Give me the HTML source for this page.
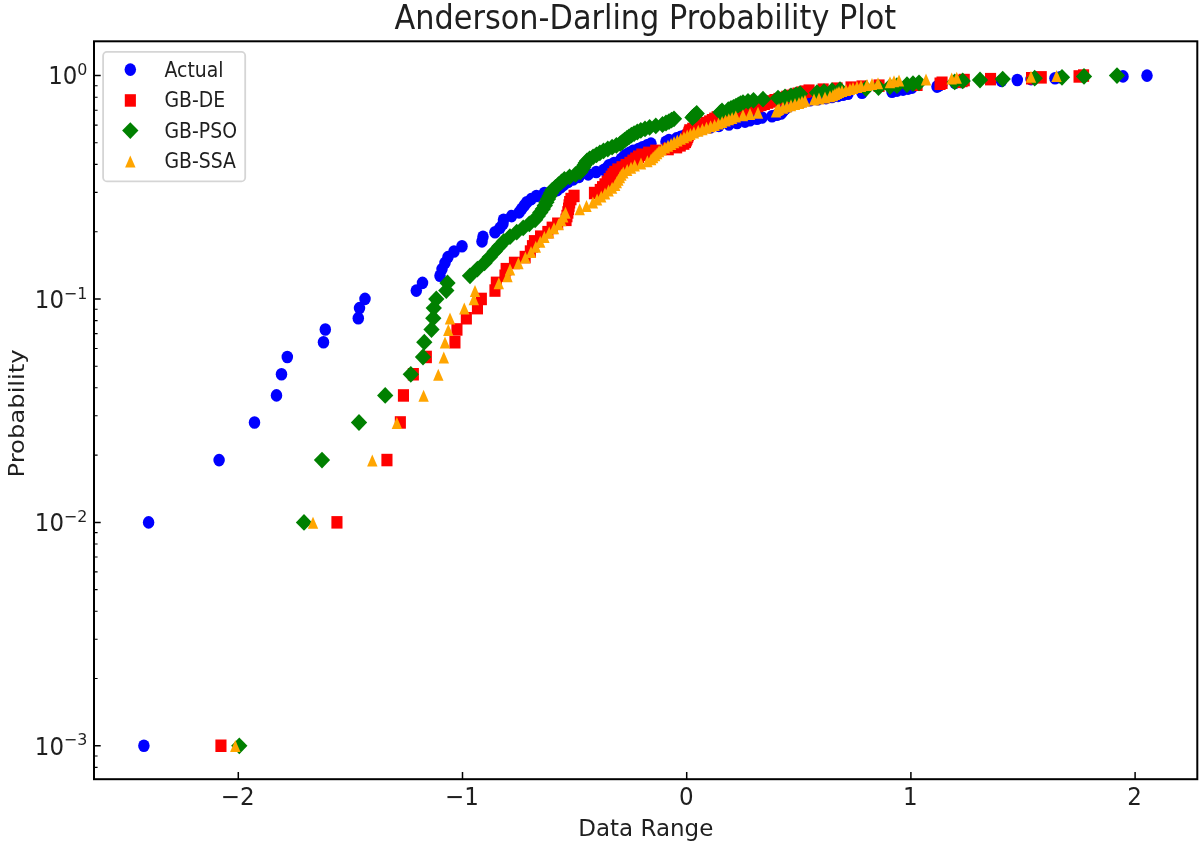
<!DOCTYPE html>
<html lang="en"><head><meta charset="utf-8"><title>Anderson-Darling Probability Plot</title>
<style>html,body{margin:0;padding:0;background:#fff}body{width:1200px;height:843px;overflow:hidden}svg{display:block}text{font-family:"DejaVu Sans","Liberation Sans",sans-serif;fill:#1f1f1f}</style></head><body>
<svg width="1200" height="843" viewBox="0 0 1200 843">
<rect width="1200" height="843" fill="#fff"/>
<g fill="#0000ff">
<ellipse cx="143.9" cy="745.8" rx="5.75" ry="6.3"/><ellipse cx="148.6" cy="522.4" rx="5.75" ry="6.3"/><ellipse cx="219.1" cy="460.1" rx="5.75" ry="6.3"/><ellipse cx="254.5" cy="422.5" rx="5.75" ry="6.3"/><ellipse cx="276.5" cy="395.4" rx="5.75" ry="6.3"/><ellipse cx="281.5" cy="374.3" rx="5.75" ry="6.3"/><ellipse cx="287.3" cy="357.0" rx="5.75" ry="6.3"/><ellipse cx="323.5" cy="342.2" rx="5.75" ry="6.3"/><ellipse cx="325.3" cy="329.5" rx="5.75" ry="6.3"/><ellipse cx="358.3" cy="318.2" rx="5.75" ry="6.3"/><ellipse cx="359.5" cy="308.1" rx="5.75" ry="6.3"/><ellipse cx="365.0" cy="298.9" rx="5.75" ry="6.3"/><ellipse cx="416.3" cy="290.6" rx="5.75" ry="6.3"/><ellipse cx="422.5" cy="282.9" rx="5.75" ry="6.3"/><ellipse cx="440.0" cy="275.8" rx="5.75" ry="6.3"/><ellipse cx="442.0" cy="269.1" rx="5.75" ry="6.3"/><ellipse cx="445.0" cy="262.9" rx="5.75" ry="6.3"/><ellipse cx="448.0" cy="257.1" rx="5.75" ry="6.3"/><ellipse cx="454.0" cy="251.5" rx="5.75" ry="6.3"/><ellipse cx="462.0" cy="246.3" rx="5.75" ry="6.3"/><ellipse cx="482.0" cy="241.4" rx="5.75" ry="6.3"/><ellipse cx="483.0" cy="236.7" rx="5.75" ry="6.3"/><ellipse cx="495.0" cy="232.2" rx="5.75" ry="6.3"/><ellipse cx="500.0" cy="227.9" rx="5.75" ry="6.3"/><ellipse cx="503.0" cy="223.8" rx="5.75" ry="6.3"/><ellipse cx="503.5" cy="219.8" rx="5.75" ry="6.3"/><ellipse cx="511.6" cy="216.1" rx="5.75" ry="6.3"/><ellipse cx="519.1" cy="212.4" rx="5.75" ry="6.3"/><ellipse cx="521.7" cy="208.9" rx="5.75" ry="6.3"/><ellipse cx="524.3" cy="205.5" rx="5.75" ry="6.3"/><ellipse cx="526.8" cy="202.2" rx="5.75" ry="6.3"/><ellipse cx="531.2" cy="199.1" rx="5.75" ry="6.3"/><ellipse cx="536.4" cy="196.0" rx="5.75" ry="6.3"/><ellipse cx="544.4" cy="193.0" rx="5.75" ry="6.3"/><ellipse cx="557.2" cy="190.1" rx="5.75" ry="6.3"/><ellipse cx="560.7" cy="187.3" rx="5.75" ry="6.3"/><ellipse cx="564.0" cy="184.6" rx="5.75" ry="6.3"/><ellipse cx="568.1" cy="181.9" rx="5.75" ry="6.3"/><ellipse cx="573.3" cy="179.4" rx="5.75" ry="6.3"/><ellipse cx="579.0" cy="176.9" rx="5.75" ry="6.3"/><ellipse cx="588.2" cy="174.4" rx="5.75" ry="6.3"/><ellipse cx="596.2" cy="172.0" rx="5.75" ry="6.3"/><ellipse cx="604.0" cy="169.7" rx="5.75" ry="6.3"/><ellipse cx="607.5" cy="167.4" rx="5.75" ry="6.3"/><ellipse cx="609.0" cy="165.2" rx="5.75" ry="6.3"/><ellipse cx="614.0" cy="163.0" rx="5.75" ry="6.3"/><ellipse cx="620.0" cy="160.9" rx="5.75" ry="6.3"/><ellipse cx="621.5" cy="158.8" rx="5.75" ry="6.3"/><ellipse cx="624.0" cy="156.8" rx="5.75" ry="6.3"/><ellipse cx="626.0" cy="154.8" rx="5.75" ry="6.3"/><ellipse cx="629.5" cy="152.8" rx="5.75" ry="6.3"/><ellipse cx="633.0" cy="150.9" rx="5.75" ry="6.3"/><ellipse cx="638.5" cy="149.0" rx="5.75" ry="6.3"/><ellipse cx="642.5" cy="147.2" rx="5.75" ry="6.3"/><ellipse cx="647.0" cy="145.4" rx="5.75" ry="6.3"/><ellipse cx="651.0" cy="143.6" rx="5.75" ry="6.3"/><ellipse cx="666.0" cy="141.8" rx="5.75" ry="6.3"/><ellipse cx="669.0" cy="140.1" rx="5.75" ry="6.3"/><ellipse cx="676.5" cy="138.4" rx="5.75" ry="6.3"/><ellipse cx="680.8" cy="136.8" rx="5.75" ry="6.3"/><ellipse cx="685.1" cy="135.2" rx="5.75" ry="6.3"/><ellipse cx="689.3" cy="133.6" rx="5.75" ry="6.3"/><ellipse cx="693.5" cy="132.0" rx="5.75" ry="6.3"/><ellipse cx="697.6" cy="130.4" rx="5.75" ry="6.3"/><ellipse cx="703.0" cy="128.9" rx="5.75" ry="6.3"/><ellipse cx="710.5" cy="127.4" rx="5.75" ry="6.3"/><ellipse cx="718.9" cy="125.9" rx="5.75" ry="6.3"/><ellipse cx="728.9" cy="124.5" rx="5.75" ry="6.3"/><ellipse cx="737.1" cy="123.0" rx="5.75" ry="6.3"/><ellipse cx="745.0" cy="121.6" rx="5.75" ry="6.3"/><ellipse cx="750.0" cy="120.2" rx="5.75" ry="6.3"/><ellipse cx="757.0" cy="118.8" rx="5.75" ry="6.3"/><ellipse cx="762.0" cy="117.5" rx="5.75" ry="6.3"/><ellipse cx="772.0" cy="116.2" rx="5.75" ry="6.3"/><ellipse cx="777.0" cy="114.8" rx="5.75" ry="6.3"/><ellipse cx="781.0" cy="113.5" rx="5.75" ry="6.3"/><ellipse cx="782.0" cy="112.3" rx="5.75" ry="6.3"/><ellipse cx="783.0" cy="111.0" rx="5.75" ry="6.3"/><ellipse cx="784.0" cy="109.7" rx="5.75" ry="6.3"/><ellipse cx="785.5" cy="108.5" rx="5.75" ry="6.3"/><ellipse cx="787.0" cy="107.3" rx="5.75" ry="6.3"/><ellipse cx="789.0" cy="106.1" rx="5.75" ry="6.3"/><ellipse cx="792.0" cy="104.9" rx="5.75" ry="6.3"/><ellipse cx="796.0" cy="103.7" rx="5.75" ry="6.3"/><ellipse cx="800.0" cy="102.6" rx="5.75" ry="6.3"/><ellipse cx="803.0" cy="101.4" rx="5.75" ry="6.3"/><ellipse cx="810.0" cy="100.3" rx="5.75" ry="6.3"/><ellipse cx="818.0" cy="99.2" rx="5.75" ry="6.3"/><ellipse cx="826.0" cy="98.1" rx="5.75" ry="6.3"/><ellipse cx="832.0" cy="97.0" rx="5.75" ry="6.3"/><ellipse cx="838.0" cy="95.9" rx="5.75" ry="6.3"/><ellipse cx="843.0" cy="94.8" rx="5.75" ry="6.3"/><ellipse cx="848.0" cy="93.7" rx="5.75" ry="6.3"/><ellipse cx="862.0" cy="92.7" rx="5.75" ry="6.3"/><ellipse cx="892.0" cy="91.7" rx="5.75" ry="6.3"/><ellipse cx="897.0" cy="90.6" rx="5.75" ry="6.3"/><ellipse cx="903.0" cy="89.6" rx="5.75" ry="6.3"/><ellipse cx="908.0" cy="88.6" rx="5.75" ry="6.3"/><ellipse cx="912.0" cy="87.6" rx="5.75" ry="6.3"/><ellipse cx="937.0" cy="86.6" rx="5.75" ry="6.3"/><ellipse cx="938.5" cy="85.7" rx="5.75" ry="6.3"/><ellipse cx="940.0" cy="84.7" rx="5.75" ry="6.3"/><ellipse cx="942.0" cy="83.7" rx="5.75" ry="6.3"/><ellipse cx="955.0" cy="82.8" rx="5.75" ry="6.3"/><ellipse cx="961.0" cy="81.9" rx="5.75" ry="6.3"/><ellipse cx="1001.5" cy="80.9" rx="5.75" ry="6.3"/><ellipse cx="1017.3" cy="80.0" rx="5.75" ry="6.3"/><ellipse cx="1031.0" cy="79.1" rx="5.75" ry="6.3"/><ellipse cx="1055.0" cy="78.2" rx="5.75" ry="6.3"/><ellipse cx="1060.0" cy="77.3" rx="5.75" ry="6.3"/><ellipse cx="1123.0" cy="76.4" rx="5.75" ry="6.3"/><ellipse cx="1147.0" cy="75.6" rx="5.75" ry="6.3"/>
</g>
<g fill="#ff0000">
<rect x="215.4" y="739.5" width="11.1" height="12.5"/><rect x="331.4" y="516.1" width="11.1" height="12.5"/><rect x="381.4" y="453.8" width="11.1" height="12.5"/><rect x="394.8" y="416.2" width="11.1" height="12.5"/><rect x="397.9" y="389.2" width="11.1" height="12.5"/><rect x="407.8" y="368.0" width="11.1" height="12.5"/><rect x="420.8" y="350.7" width="11.1" height="12.5"/><rect x="449.4" y="336.0" width="11.1" height="12.5"/><rect x="451.4" y="323.2" width="11.1" height="12.5"/><rect x="460.8" y="312.0" width="11.1" height="12.5"/><rect x="471.9" y="301.9" width="11.1" height="12.5"/><rect x="475.8" y="292.7" width="11.1" height="12.5"/><rect x="489.4" y="284.3" width="11.1" height="12.5"/><rect x="490.8" y="276.6" width="11.1" height="12.5"/><rect x="499.4" y="269.5" width="11.1" height="12.5"/><rect x="500.6" y="262.9" width="11.1" height="12.5"/><rect x="508.9" y="256.7" width="11.1" height="12.5"/><rect x="519.6" y="250.8" width="11.1" height="12.5"/><rect x="524.8" y="245.3" width="11.1" height="12.5"/><rect x="526.9" y="240.1" width="11.1" height="12.5"/><rect x="528.9" y="235.1" width="11.1" height="12.5"/><rect x="535.0" y="230.4" width="11.1" height="12.5"/><rect x="542.3" y="225.9" width="11.1" height="12.5"/><rect x="546.6" y="221.6" width="11.1" height="12.5"/><rect x="552.1" y="217.5" width="11.1" height="12.5"/><rect x="560.5" y="213.6" width="11.1" height="12.5"/><rect x="561.4" y="209.8" width="11.1" height="12.5"/><rect x="562.3" y="206.2" width="11.1" height="12.5"/><rect x="563.0" y="202.6" width="11.1" height="12.5"/><rect x="563.5" y="199.3" width="11.1" height="12.5"/><rect x="564.1" y="196.0" width="11.1" height="12.5"/><rect x="565.4" y="192.8" width="11.1" height="12.5"/><rect x="568.5" y="189.7" width="11.1" height="12.5"/><rect x="588.9" y="186.8" width="11.1" height="12.5"/><rect x="594.7" y="183.9" width="11.1" height="12.5"/><rect x="597.0" y="181.1" width="11.1" height="12.5"/><rect x="599.4" y="178.3" width="11.1" height="12.5"/><rect x="601.6" y="175.7" width="11.1" height="12.5"/><rect x="603.7" y="173.1" width="11.1" height="12.5"/><rect x="605.6" y="170.6" width="11.1" height="12.5"/><rect x="607.4" y="168.2" width="11.1" height="12.5"/><rect x="609.2" y="165.8" width="11.1" height="12.5"/><rect x="612.3" y="163.4" width="11.1" height="12.5"/><rect x="616.5" y="161.2" width="11.1" height="12.5"/><rect x="620.5" y="158.9" width="11.1" height="12.5"/><rect x="624.4" y="156.8" width="11.1" height="12.5"/><rect x="627.4" y="154.6" width="11.1" height="12.5"/><rect x="630.2" y="152.5" width="11.1" height="12.5"/><rect x="633.0" y="150.5" width="11.1" height="12.5"/><rect x="636.3" y="148.5" width="11.1" height="12.5"/><rect x="643.1" y="146.6" width="11.1" height="12.5"/><rect x="650.2" y="144.6" width="11.1" height="12.5"/><rect x="662.7" y="142.8" width="11.1" height="12.5"/><rect x="671.1" y="140.9" width="11.1" height="12.5"/><rect x="674.7" y="139.1" width="11.1" height="12.5"/><rect x="678.3" y="137.3" width="11.1" height="12.5"/><rect x="679.9" y="135.6" width="11.1" height="12.5"/><rect x="680.7" y="133.9" width="11.1" height="12.5"/><rect x="681.4" y="132.2" width="11.1" height="12.5"/><rect x="682.1" y="130.5" width="11.1" height="12.5"/><rect x="682.7" y="128.9" width="11.1" height="12.5"/><rect x="683.3" y="127.3" width="11.1" height="12.5"/><rect x="683.8" y="125.7" width="11.1" height="12.5"/><rect x="684.3" y="124.2" width="11.1" height="12.5"/><rect x="687.2" y="122.7" width="11.1" height="12.5"/><rect x="690.9" y="121.2" width="11.1" height="12.5"/><rect x="694.6" y="119.7" width="11.1" height="12.5"/><rect x="697.8" y="118.2" width="11.1" height="12.5"/><rect x="701.0" y="116.8" width="11.1" height="12.5"/><rect x="704.1" y="115.4" width="11.1" height="12.5"/><rect x="706.8" y="114.0" width="11.1" height="12.5"/><rect x="709.2" y="112.6" width="11.1" height="12.5"/><rect x="711.6" y="111.2" width="11.1" height="12.5"/><rect x="715.8" y="109.9" width="11.1" height="12.5"/><rect x="721.1" y="108.6" width="11.1" height="12.5"/><rect x="727.2" y="107.3" width="11.1" height="12.5"/><rect x="734.9" y="106.0" width="11.1" height="12.5"/><rect x="739.1" y="104.7" width="11.1" height="12.5"/><rect x="742.3" y="103.5" width="11.1" height="12.5"/><rect x="745.5" y="102.3" width="11.1" height="12.5"/><rect x="748.7" y="101.0" width="11.1" height="12.5"/><rect x="752.1" y="99.8" width="11.1" height="12.5"/><rect x="755.5" y="98.6" width="11.1" height="12.5"/><rect x="758.8" y="97.5" width="11.1" height="12.5"/><rect x="762.2" y="96.3" width="11.1" height="12.5"/><rect x="765.5" y="95.2" width="11.1" height="12.5"/><rect x="769.4" y="94.0" width="11.1" height="12.5"/><rect x="773.4" y="92.9" width="11.1" height="12.5"/><rect x="777.3" y="91.8" width="11.1" height="12.5"/><rect x="781.2" y="90.7" width="11.1" height="12.5"/><rect x="785.0" y="89.6" width="11.1" height="12.5"/><rect x="788.8" y="88.6" width="11.1" height="12.5"/><rect x="792.5" y="87.5" width="11.1" height="12.5"/><rect x="796.2" y="86.4" width="11.1" height="12.5"/><rect x="799.8" y="85.4" width="11.1" height="12.5"/><rect x="803.5" y="84.4" width="11.1" height="12.5"/><rect x="817.6" y="83.4" width="11.1" height="12.5"/><rect x="831.6" y="82.4" width="11.1" height="12.5"/><rect x="845.5" y="81.4" width="11.1" height="12.5"/><rect x="856.5" y="80.4" width="11.1" height="12.5"/><rect x="873.5" y="79.4" width="11.1" height="12.5"/><rect x="911.5" y="78.5" width="11.1" height="12.5"/><rect x="934.5" y="77.5" width="11.1" height="12.5"/><rect x="936.5" y="76.5" width="11.1" height="12.5"/><rect x="953.5" y="75.6" width="11.1" height="12.5"/><rect x="956.5" y="74.7" width="11.1" height="12.5"/><rect x="958.7" y="73.8" width="11.1" height="12.5"/><rect x="985.0" y="72.9" width="11.1" height="12.5"/><rect x="1026.0" y="72.0" width="11.1" height="12.5"/><rect x="1035.7" y="71.1" width="11.1" height="12.5"/><rect x="1073.5" y="70.2" width="11.1" height="12.5"/><rect x="1078.0" y="69.3" width="11.1" height="12.5"/>
</g>
<g fill="#008000">
<path d="M239.3 737.4l8.15 8.4l-8.15 8.4l-8.15 -8.4z"/><path d="M304.0 514.0l8.15 8.4l-8.15 8.4l-8.15 -8.4z"/><path d="M322.0 451.7l8.15 8.4l-8.15 8.4l-8.15 -8.4z"/><path d="M359.0 414.1l8.15 8.4l-8.15 8.4l-8.15 -8.4z"/><path d="M385.2 387.0l8.15 8.4l-8.15 8.4l-8.15 -8.4z"/><path d="M410.8 365.9l8.15 8.4l-8.15 8.4l-8.15 -8.4z"/><path d="M423.0 348.6l8.15 8.4l-8.15 8.4l-8.15 -8.4z"/><path d="M424.3 333.8l8.15 8.4l-8.15 8.4l-8.15 -8.4z"/><path d="M431.5 321.1l8.15 8.4l-8.15 8.4l-8.15 -8.4z"/><path d="M433.3 309.8l8.15 8.4l-8.15 8.4l-8.15 -8.4z"/><path d="M433.8 299.7l8.15 8.4l-8.15 8.4l-8.15 -8.4z"/><path d="M436.3 290.6l8.15 8.4l-8.15 8.4l-8.15 -8.4z"/><path d="M446.3 282.2l8.15 8.4l-8.15 8.4l-8.15 -8.4z"/><path d="M447.5 274.5l8.15 8.4l-8.15 8.4l-8.15 -8.4z"/><path d="M470.0 267.4l8.15 8.4l-8.15 8.4l-8.15 -8.4z"/><path d="M477.4 260.7l8.15 8.4l-8.15 8.4l-8.15 -8.4z"/><path d="M484.5 254.5l8.15 8.4l-8.15 8.4l-8.15 -8.4z"/><path d="M489.8 248.7l8.15 8.4l-8.15 8.4l-8.15 -8.4z"/><path d="M494.7 243.1l8.15 8.4l-8.15 8.4l-8.15 -8.4z"/><path d="M499.4 237.9l8.15 8.4l-8.15 8.4l-8.15 -8.4z"/><path d="M503.8 233.0l8.15 8.4l-8.15 8.4l-8.15 -8.4z"/><path d="M510.0 228.3l8.15 8.4l-8.15 8.4l-8.15 -8.4z"/><path d="M516.7 223.8l8.15 8.4l-8.15 8.4l-8.15 -8.4z"/><path d="M523.2 219.5l8.15 8.4l-8.15 8.4l-8.15 -8.4z"/><path d="M529.3 215.4l8.15 8.4l-8.15 8.4l-8.15 -8.4z"/><path d="M535.1 211.4l8.15 8.4l-8.15 8.4l-8.15 -8.4z"/><path d="M537.8 207.7l8.15 8.4l-8.15 8.4l-8.15 -8.4z"/><path d="M540.3 204.0l8.15 8.4l-8.15 8.4l-8.15 -8.4z"/><path d="M542.8 200.5l8.15 8.4l-8.15 8.4l-8.15 -8.4z"/><path d="M544.8 197.1l8.15 8.4l-8.15 8.4l-8.15 -8.4z"/><path d="M546.4 193.8l8.15 8.4l-8.15 8.4l-8.15 -8.4z"/><path d="M548.0 190.7l8.15 8.4l-8.15 8.4l-8.15 -8.4z"/><path d="M549.5 187.6l8.15 8.4l-8.15 8.4l-8.15 -8.4z"/><path d="M551.0 184.6l8.15 8.4l-8.15 8.4l-8.15 -8.4z"/><path d="M552.4 181.7l8.15 8.4l-8.15 8.4l-8.15 -8.4z"/><path d="M555.5 178.9l8.15 8.4l-8.15 8.4l-8.15 -8.4z"/><path d="M558.5 176.2l8.15 8.4l-8.15 8.4l-8.15 -8.4z"/><path d="M561.5 173.5l8.15 8.4l-8.15 8.4l-8.15 -8.4z"/><path d="M564.4 171.0l8.15 8.4l-8.15 8.4l-8.15 -8.4z"/><path d="M569.6 168.5l8.15 8.4l-8.15 8.4l-8.15 -8.4z"/><path d="M575.5 166.0l8.15 8.4l-8.15 8.4l-8.15 -8.4z"/><path d="M580.3 163.6l8.15 8.4l-8.15 8.4l-8.15 -8.4z"/><path d="M581.7 161.3l8.15 8.4l-8.15 8.4l-8.15 -8.4z"/><path d="M583.1 159.0l8.15 8.4l-8.15 8.4l-8.15 -8.4z"/><path d="M584.4 156.8l8.15 8.4l-8.15 8.4l-8.15 -8.4z"/><path d="M585.7 154.6l8.15 8.4l-8.15 8.4l-8.15 -8.4z"/><path d="M587.0 152.5l8.15 8.4l-8.15 8.4l-8.15 -8.4z"/><path d="M589.6 150.4l8.15 8.4l-8.15 8.4l-8.15 -8.4z"/><path d="M593.1 148.4l8.15 8.4l-8.15 8.4l-8.15 -8.4z"/><path d="M596.5 146.4l8.15 8.4l-8.15 8.4l-8.15 -8.4z"/><path d="M599.9 144.4l8.15 8.4l-8.15 8.4l-8.15 -8.4z"/><path d="M603.5 142.5l8.15 8.4l-8.15 8.4l-8.15 -8.4z"/><path d="M607.8 140.6l8.15 8.4l-8.15 8.4l-8.15 -8.4z"/><path d="M612.1 138.8l8.15 8.4l-8.15 8.4l-8.15 -8.4z"/><path d="M616.4 137.0l8.15 8.4l-8.15 8.4l-8.15 -8.4z"/><path d="M620.3 135.2l8.15 8.4l-8.15 8.4l-8.15 -8.4z"/><path d="M622.5 133.4l8.15 8.4l-8.15 8.4l-8.15 -8.4z"/><path d="M624.7 131.7l8.15 8.4l-8.15 8.4l-8.15 -8.4z"/><path d="M626.9 130.0l8.15 8.4l-8.15 8.4l-8.15 -8.4z"/><path d="M629.0 128.4l8.15 8.4l-8.15 8.4l-8.15 -8.4z"/><path d="M631.4 126.8l8.15 8.4l-8.15 8.4l-8.15 -8.4z"/><path d="M634.1 125.2l8.15 8.4l-8.15 8.4l-8.15 -8.4z"/><path d="M637.3 123.6l8.15 8.4l-8.15 8.4l-8.15 -8.4z"/><path d="M640.8 122.0l8.15 8.4l-8.15 8.4l-8.15 -8.4z"/><path d="M645.0 120.5l8.15 8.4l-8.15 8.4l-8.15 -8.4z"/><path d="M649.6 119.0l8.15 8.4l-8.15 8.4l-8.15 -8.4z"/><path d="M655.8 117.5l8.15 8.4l-8.15 8.4l-8.15 -8.4z"/><path d="M662.5 116.1l8.15 8.4l-8.15 8.4l-8.15 -8.4z"/><path d="M666.0 114.6l8.15 8.4l-8.15 8.4l-8.15 -8.4z"/><path d="M669.0 113.2l8.15 8.4l-8.15 8.4l-8.15 -8.4z"/><path d="M671.5 111.8l8.15 8.4l-8.15 8.4l-8.15 -8.4z"/><path d="M674.0 110.4l8.15 8.4l-8.15 8.4l-8.15 -8.4z"/><path d="M692.5 109.1l8.15 8.4l-8.15 8.4l-8.15 -8.4z"/><path d="M693.8 107.8l8.15 8.4l-8.15 8.4l-8.15 -8.4z"/><path d="M695.5 106.4l8.15 8.4l-8.15 8.4l-8.15 -8.4z"/><path d="M696.7 105.1l8.15 8.4l-8.15 8.4l-8.15 -8.4z"/><path d="M720.5 103.9l8.15 8.4l-8.15 8.4l-8.15 -8.4z"/><path d="M722.0 102.6l8.15 8.4l-8.15 8.4l-8.15 -8.4z"/><path d="M728.3 101.3l8.15 8.4l-8.15 8.4l-8.15 -8.4z"/><path d="M731.0 100.1l8.15 8.4l-8.15 8.4l-8.15 -8.4z"/><path d="M733.5 98.9l8.15 8.4l-8.15 8.4l-8.15 -8.4z"/><path d="M736.0 97.7l8.15 8.4l-8.15 8.4l-8.15 -8.4z"/><path d="M738.3 96.5l8.15 8.4l-8.15 8.4l-8.15 -8.4z"/><path d="M740.5 95.3l8.15 8.4l-8.15 8.4l-8.15 -8.4z"/><path d="M743.0 94.2l8.15 8.4l-8.15 8.4l-8.15 -8.4z"/><path d="M748.0 93.0l8.15 8.4l-8.15 8.4l-8.15 -8.4z"/><path d="M753.5 91.9l8.15 8.4l-8.15 8.4l-8.15 -8.4z"/><path d="M763.0 90.8l8.15 8.4l-8.15 8.4l-8.15 -8.4z"/><path d="M778.0 89.7l8.15 8.4l-8.15 8.4l-8.15 -8.4z"/><path d="M785.0 88.6l8.15 8.4l-8.15 8.4l-8.15 -8.4z"/><path d="M791.0 87.5l8.15 8.4l-8.15 8.4l-8.15 -8.4z"/><path d="M796.0 86.4l8.15 8.4l-8.15 8.4l-8.15 -8.4z"/><path d="M800.0 85.3l8.15 8.4l-8.15 8.4l-8.15 -8.4z"/><path d="M817.0 84.3l8.15 8.4l-8.15 8.4l-8.15 -8.4z"/><path d="M824.0 83.3l8.15 8.4l-8.15 8.4l-8.15 -8.4z"/><path d="M832.0 82.2l8.15 8.4l-8.15 8.4l-8.15 -8.4z"/><path d="M840.0 81.2l8.15 8.4l-8.15 8.4l-8.15 -8.4z"/><path d="M866.0 80.2l8.15 8.4l-8.15 8.4l-8.15 -8.4z"/><path d="M878.5 79.2l8.15 8.4l-8.15 8.4l-8.15 -8.4z"/><path d="M890.0 78.2l8.15 8.4l-8.15 8.4l-8.15 -8.4z"/><path d="M897.0 77.3l8.15 8.4l-8.15 8.4l-8.15 -8.4z"/><path d="M907.0 76.3l8.15 8.4l-8.15 8.4l-8.15 -8.4z"/><path d="M913.0 75.3l8.15 8.4l-8.15 8.4l-8.15 -8.4z"/><path d="M919.0 74.4l8.15 8.4l-8.15 8.4l-8.15 -8.4z"/><path d="M954.7 73.5l8.15 8.4l-8.15 8.4l-8.15 -8.4z"/><path d="M962.7 72.5l8.15 8.4l-8.15 8.4l-8.15 -8.4z"/><path d="M980.0 71.6l8.15 8.4l-8.15 8.4l-8.15 -8.4z"/><path d="M1002.7 70.7l8.15 8.4l-8.15 8.4l-8.15 -8.4z"/><path d="M1034.7 69.8l8.15 8.4l-8.15 8.4l-8.15 -8.4z"/><path d="M1062.0 68.9l8.15 8.4l-8.15 8.4l-8.15 -8.4z"/><path d="M1084.0 68.0l8.15 8.4l-8.15 8.4l-8.15 -8.4z"/><path d="M1117.0 67.2l8.15 8.4l-8.15 8.4l-8.15 -8.4z"/>
</g>
<g fill="#ffa500">
<path d="M235.3 740.1l5.2 12.0h-10.4z"/><path d="M313.0 516.8l5.2 12.0h-10.4z"/><path d="M372.3 454.5l5.2 12.0h-10.4z"/><path d="M396.9 416.9l5.2 12.0h-10.4z"/><path d="M423.6 389.8l5.2 12.0h-10.4z"/><path d="M438.3 368.7l5.2 12.0h-10.4z"/><path d="M443.8 351.4l5.2 12.0h-10.4z"/><path d="M445.0 336.6l5.2 12.0h-10.4z"/><path d="M448.3 323.9l5.2 12.0h-10.4z"/><path d="M450.0 312.6l5.2 12.0h-10.4z"/><path d="M464.3 302.5l5.2 12.0h-10.4z"/><path d="M473.8 293.3l5.2 12.0h-10.4z"/><path d="M475.0 285.0l5.2 12.0h-10.4z"/><path d="M498.8 277.3l5.2 12.0h-10.4z"/><path d="M507.5 270.2l5.2 12.0h-10.4z"/><path d="M510.0 263.5l5.2 12.0h-10.4z"/><path d="M518.4 257.3l5.2 12.0h-10.4z"/><path d="M525.4 251.5l5.2 12.0h-10.4z"/><path d="M531.0 245.9l5.2 12.0h-10.4z"/><path d="M535.8 240.7l5.2 12.0h-10.4z"/><path d="M540.2 235.8l5.2 12.0h-10.4z"/><path d="M544.4 231.1l5.2 12.0h-10.4z"/><path d="M549.2 226.6l5.2 12.0h-10.4z"/><path d="M554.0 222.3l5.2 12.0h-10.4z"/><path d="M558.6 218.2l5.2 12.0h-10.4z"/><path d="M561.3 214.2l5.2 12.0h-10.4z"/><path d="M563.2 210.5l5.2 12.0h-10.4z"/><path d="M565.5 206.8l5.2 12.0h-10.4z"/><path d="M579.7 203.3l5.2 12.0h-10.4z"/><path d="M586.5 199.9l5.2 12.0h-10.4z"/><path d="M592.9 196.6l5.2 12.0h-10.4z"/><path d="M597.1 193.5l5.2 12.0h-10.4z"/><path d="M601.2 190.4l5.2 12.0h-10.4z"/><path d="M605.0 187.4l5.2 12.0h-10.4z"/><path d="M608.6 184.5l5.2 12.0h-10.4z"/><path d="M612.1 181.7l5.2 12.0h-10.4z"/><path d="M615.2 179.0l5.2 12.0h-10.4z"/><path d="M616.8 176.3l5.2 12.0h-10.4z"/><path d="M618.4 173.8l5.2 12.0h-10.4z"/><path d="M619.9 171.3l5.2 12.0h-10.4z"/><path d="M621.4 168.8l5.2 12.0h-10.4z"/><path d="M623.3 166.4l5.2 12.0h-10.4z"/><path d="M627.2 164.1l5.2 12.0h-10.4z"/><path d="M631.0 161.8l5.2 12.0h-10.4z"/><path d="M634.7 159.6l5.2 12.0h-10.4z"/><path d="M641.0 157.4l5.2 12.0h-10.4z"/><path d="M647.4 155.3l5.2 12.0h-10.4z"/><path d="M651.2 153.2l5.2 12.0h-10.4z"/><path d="M653.2 151.2l5.2 12.0h-10.4z"/><path d="M655.2 149.2l5.2 12.0h-10.4z"/><path d="M657.2 147.2l5.2 12.0h-10.4z"/><path d="M659.1 145.3l5.2 12.0h-10.4z"/><path d="M661.7 143.4l5.2 12.0h-10.4z"/><path d="M664.9 141.6l5.2 12.0h-10.4z"/><path d="M668.0 139.8l5.2 12.0h-10.4z"/><path d="M671.1 138.0l5.2 12.0h-10.4z"/><path d="M674.1 136.2l5.2 12.0h-10.4z"/><path d="M677.3 134.5l5.2 12.0h-10.4z"/><path d="M680.7 132.8l5.2 12.0h-10.4z"/><path d="M684.0 131.2l5.2 12.0h-10.4z"/><path d="M687.2 129.6l5.2 12.0h-10.4z"/><path d="M690.4 128.0l5.2 12.0h-10.4z"/><path d="M693.9 126.4l5.2 12.0h-10.4z"/><path d="M698.2 124.8l5.2 12.0h-10.4z"/><path d="M702.4 123.3l5.2 12.0h-10.4z"/><path d="M706.5 121.8l5.2 12.0h-10.4z"/><path d="M710.6 120.3l5.2 12.0h-10.4z"/><path d="M714.6 118.9l5.2 12.0h-10.4z"/><path d="M718.5 117.4l5.2 12.0h-10.4z"/><path d="M722.1 116.0l5.2 12.0h-10.4z"/><path d="M725.5 114.6l5.2 12.0h-10.4z"/><path d="M728.8 113.2l5.2 12.0h-10.4z"/><path d="M732.1 111.9l5.2 12.0h-10.4z"/><path d="M735.8 110.6l5.2 12.0h-10.4z"/><path d="M743.0 109.2l5.2 12.0h-10.4z"/><path d="M750.0 107.9l5.2 12.0h-10.4z"/><path d="M758.0 106.7l5.2 12.0h-10.4z"/><path d="M776.0 105.4l5.2 12.0h-10.4z"/><path d="M777.5 104.1l5.2 12.0h-10.4z"/><path d="M779.0 102.9l5.2 12.0h-10.4z"/><path d="M783.0 101.7l5.2 12.0h-10.4z"/><path d="M787.0 100.5l5.2 12.0h-10.4z"/><path d="M791.0 99.3l5.2 12.0h-10.4z"/><path d="M795.0 98.1l5.2 12.0h-10.4z"/><path d="M799.0 97.0l5.2 12.0h-10.4z"/><path d="M802.0 95.8l5.2 12.0h-10.4z"/><path d="M805.0 94.7l5.2 12.0h-10.4z"/><path d="M814.0 93.6l5.2 12.0h-10.4z"/><path d="M819.0 92.5l5.2 12.0h-10.4z"/><path d="M825.0 91.4l5.2 12.0h-10.4z"/><path d="M830.0 90.3l5.2 12.0h-10.4z"/><path d="M833.0 89.2l5.2 12.0h-10.4z"/><path d="M835.0 88.1l5.2 12.0h-10.4z"/><path d="M837.0 87.1l5.2 12.0h-10.4z"/><path d="M839.0 86.1l5.2 12.0h-10.4z"/><path d="M842.0 85.0l5.2 12.0h-10.4z"/><path d="M846.0 84.0l5.2 12.0h-10.4z"/><path d="M850.0 83.0l5.2 12.0h-10.4z"/><path d="M853.0 82.0l5.2 12.0h-10.4z"/><path d="M857.0 81.0l5.2 12.0h-10.4z"/><path d="M861.0 80.1l5.2 12.0h-10.4z"/><path d="M867.0 79.1l5.2 12.0h-10.4z"/><path d="M872.0 78.1l5.2 12.0h-10.4z"/><path d="M878.0 77.2l5.2 12.0h-10.4z"/><path d="M890.0 76.3l5.2 12.0h-10.4z"/><path d="M894.0 75.3l5.2 12.0h-10.4z"/><path d="M899.0 74.4l5.2 12.0h-10.4z"/><path d="M926.0 73.5l5.2 12.0h-10.4z"/><path d="M951.7 72.6l5.2 12.0h-10.4z"/><path d="M956.7 71.7l5.2 12.0h-10.4z"/><path d="M1031.0 70.8l5.2 12.0h-10.4z"/><path d="M1056.5 70.0l5.2 12.0h-10.4z"/>
</g>
<path d="M238.3 779.2v-7.2M462.5 779.2v-7.2M686.7 779.2v-7.2M910.9 779.2v-7.2M1135.1 779.2v-7.2" stroke="#000" stroke-width="1.5" fill="none"/>
<path d="M94.0 75.5h6.7M94.0 298.9h6.7M94.0 522.4h6.7M94.0 745.8h6.7" stroke="#000" stroke-width="1.5" fill="none"/>
<path d="M94.0 231.7h3.6M94.0 192.4h3.6M94.0 164.4h3.6M94.0 142.8h3.6M94.0 125.1h3.6M94.0 110.2h3.6M94.0 97.2h3.6M94.0 85.8h3.6M94.0 455.1h3.6M94.0 415.8h3.6M94.0 387.8h3.6M94.0 366.2h3.6M94.0 348.5h3.6M94.0 333.6h3.6M94.0 320.6h3.6M94.0 309.2h3.6M94.0 678.5h3.6M94.0 639.2h3.6M94.0 611.2h3.6M94.0 589.6h3.6M94.0 571.9h3.6M94.0 557.0h3.6M94.0 544.0h3.6M94.0 532.6h3.6M94.0 767.4h3.6M94.0 756.0h3.6" stroke="#000" stroke-width="1.1" fill="none"/>
<rect x="94.0" y="41.3" width="1103.3" height="737.9000000000001" fill="none" stroke="#000" stroke-width="2"/>
<rect x="103.1" y="51.9" width="142.1" height="129.5" rx="3.8" ry="4" fill="#fff" fill-opacity="0.8" stroke="#d5d5d5" stroke-width="1.8"/>
<g fill="#0000ff"><ellipse cx="130.3" cy="69.6" rx="5.75" ry="6.3"/></g>
<g fill="#ff0000"><rect x="124.8" y="94.2" width="11.1" height="12.5"/></g>
<g fill="#008000"><path d="M130.3 122.2l8.15 8.4l-8.15 8.4l-8.15 -8.4z"/></g>
<g fill="#ffa500"><path d="M130.3 155.6l5.2 12.0h-10.4z"/></g>
<text transform="translate(164.5,77.1) scale(1,1.13)" font-size="18.85" text-anchor="start">Actual</text>
<text transform="translate(164.5,107.3) scale(1,1.13)" font-size="18.85" text-anchor="start">GB-DE</text>
<text transform="translate(164.5,137.6) scale(1,1.13)" font-size="18.85" text-anchor="start">GB-PSO</text>
<text transform="translate(164.5,168.0) scale(1,1.13)" font-size="18.85" text-anchor="start">GB-SSA</text>
<text transform="translate(645.4,28.8) scale(1,1.13)" font-size="30.35" text-anchor="middle">Anderson-Darling Probability Plot</text>
<text transform="translate(645.8,836.4) scale(1,1.02)" font-size="23.0" text-anchor="middle">Data Range</text>
<text transform="translate(23.8,413.4) scale(1,1.108) rotate(-90)" font-size="21.9" text-anchor="middle">Probability</text>
<text transform="translate(237.8,805.4) scale(1,1.07)" font-size="23" text-anchor="middle">−2</text>
<text transform="translate(462.0,805.4) scale(1,1.07)" font-size="23" text-anchor="middle">−1</text>
<text transform="translate(686.2,805.4) scale(1,1.07)" font-size="23" text-anchor="middle">0</text>
<text transform="translate(910.4,805.4) scale(1,1.07)" font-size="23" text-anchor="middle">1</text>
<text transform="translate(1134.6,805.4) scale(1,1.07)" font-size="23" text-anchor="middle">2</text>
<text transform="translate(87.4,84.3) scale(1,1.046)" font-size="22.9" text-anchor="end">10<tspan font-size="15.9" dy="-8.8">0</tspan></text>
<text transform="translate(87.4,307.8) scale(1,1.046)" font-size="22.9" text-anchor="end">10<tspan font-size="15.9" dy="-8.8">−1</tspan></text>
<text transform="translate(87.4,531.1) scale(1,1.046)" font-size="22.9" text-anchor="end">10<tspan font-size="15.9" dy="-8.8">−2</tspan></text>
<text transform="translate(87.4,754.5) scale(1,1.046)" font-size="22.9" text-anchor="end">10<tspan font-size="15.9" dy="-8.8">−3</tspan></text>
</svg></body></html>
